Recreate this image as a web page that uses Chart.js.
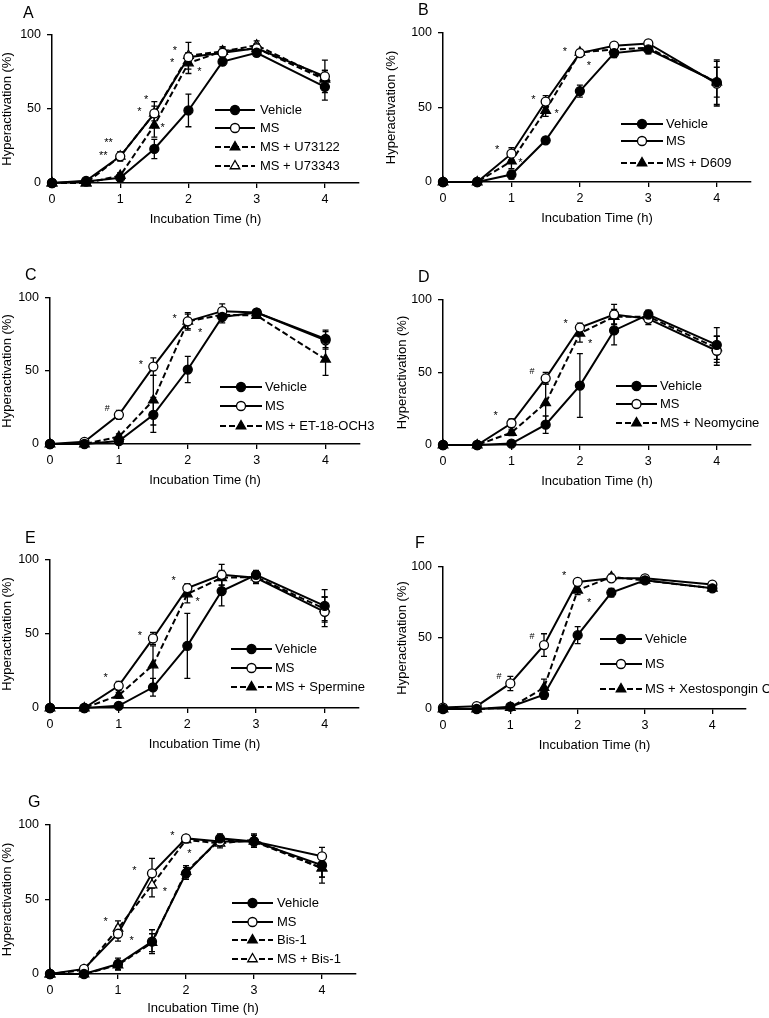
<!DOCTYPE html>
<html><head><meta charset="utf-8">
<script src="https://cdn.jsdelivr.net/npm/chart.js@4.4.1/dist/chart.umd.min.js"></script>
<style>
html,body{margin:0;padding:0;background:#fff;}
body{width:769px;height:1018px;position:relative;overflow:hidden;font-family:"Liberation Sans",Arial,sans-serif;}
canvas.p{position:absolute;}
.lab{position:absolute;font-size:16px;line-height:16px;color:#000;}
</style></head><body>
<script>
// ---------- DATA ----------
const times=[0,0.5,1,1.5,2,2.5,3,4];
const xTickValues=[0,1,2,3,4];
const yTickValues=[0,50,100];
const xTitle='Incubation Time (h)';
const yTitle='Hyperactivation (%)';

// Panel A
const aNames=['Vehicle','MS','MS + U73122','MS + U73343'];
const aVehicle=[0,1,3.6,23,49,82,88,65];
const aVehicleErr=[0,0.5,2.5,6.5,11,2.5,2.5,9];
const aMS=[0,1.5,18,47,85,88,91,72];
const aMSErr=[0,0.5,3,8,3,3,3,11];
const aU73122=[0,0,5,39,81,89,91,70];
const aU73122Err=[0,0,2,8,7,3,3,6];
const aU73343=[0,0,18,47,86,89,93,71];
const aU73343Err=[0,0,3,5,9,3,3,5];
const aMarks=[[0.83,29,'**'],[0.75,20,'**'],[1.38,58,'*'],[1.28,50,'*'],[1.62,39,'*'],[1.8,91,'*'],[1.76,83,'*'],[2.16,77,'*']];

// Panel B
const bNames=['Vehicle','MS','MS + D609'];
const bVehicle=[0,0,5,28,61,86.5,89,67];
const bVehicleErr=[0,0,3,2,4,3,3,15];
const bMS=[0,0,19,54,86.5,91.5,93,66];
const bMSErr=[0,0,4,4,2,2,2,15];
const bD609=[0,0,14,48,87,89,90,67];
const bD609Err=[0,0,5,4,2,2,3,10];
const bMarks=[[0.79,23.6,'*'],[1.13,15,'*'],[1.32,57,'*'],[1.66,48,'*'],[1.78,89,'*'],[2.13,79.6,'*']];

// Panel C
const cNames=['Vehicle','MS','MS + ET-18-OCH3'];
const cVehicle=[0,0,2,20,51,87,90,72];
const cVehicleErr=[0,0,1.5,12,9,4,2,6];
const cMS=[0,1.5,20,53,84,91,90,71];
const cMSErr=[0,0,3,6,6,5,2,6];
const cET=[0,0,5,30,84,88.5,88,58];
const cETErr=[0,0,2,17,5,4,2,11];
const cMarks=[[0.83,24,'#'],[1.32,56,'*'],[1.81,88,'*'],[2.18,78,'*']];

// Panel D
const dNames=['Vehicle','MS','MS + Neomycine'];
const dVehicle=[0,0,1,14,41,79,90,69];
const dVehicleErr=[0,0,1,6,22,10,3,12];
const dMS=[0,0,15,46,81,90,87,65];
const dMSErr=[0,0,3,4,3,7,4,10];
const dNeo=[0,0,8.5,29,77,88.5,88.5,67];
const dNeoErr=[0,0,2,13,6,5,4,8];
const dMarks=[[0.77,22,'*'],[1.3,50.6,'#'],[1.79,85.5,'*'],[2.15,72,'*']];

// Panel E
const eNames=['Vehicle','MS','MS + Spermine'];
const eVehicle=[0,0,1.5,14,42,79,90,69];
const eVehicleErr=[0,0,1,6,22,10,3,11];
const eMS=[0,0,15,47,81,90,88,65];
const eMSErr=[0,0,3,4,3,7,4,10];
const eSp=[0,0,8.5,29,77,88,88.5,67];
const eSpErr=[0,0,2,13,6,5,4,8];
const eMarks=[[0.81,22.5,'*'],[1.31,51,'*'],[1.8,87.6,'*'],[2.15,73.5,'*']];

// Panel F
const fNames=['Vehicle','MS','MS + Xestospongin C'];
const fVehicle=[0,0,1.6,10,52,82,90.6,85];
const fVehicleErr=[0,0,1,3,6,3,2,2];
const fMS=[1,2,18,45,89.5,92,92,87.6];
const fMSErr=[0,0,5,8,2,2,2,2];
const fXesto=[0,0,1,15,83.6,93,90.6,85];
const fXestoErr=[0,0,1,6,3,2,2,2];
const fMarks=[[0.83,22.7,'#'],[1.32,50.8,'#'],[1.8,96,'*'],[2.17,76.6,'*']];

// Panel G
const gNames=['Vehicle','MS','Bis-1','MS + Bis-1'];
const gVehicle=[0,0,6.7,21.7,67.6,91,89,73];
const gVehicleErr=[0,0,4,8,4,3,4,8];
const gMS=[0,3.4,27,67.6,91,89,89,79];
const gMSErr=[0,0.5,5,10,2,3,4,6];
const gBis=[0,0,6,21,68.7,90,89,71];
const gBisErr=[0,0,3,6,4,3,4,6];
const gMSBis=[0,2.7,30.6,59.7,90,87.7,90,71];
const gMSBisErr=[0,0.5,5,8,2,3,4,10];
const gMarks=[[0.82,37,'*'],[1.2,24.4,'*'],[1.24,71.4,'*'],[1.69,57,'*'],[1.8,94.4,'*'],[2.05,82.5,'*']];

// ---------- STYLES ----------
const STY={
  vf:{dash:[],ps:'circle',r:4.5,fill:'#000'},
  mo:{dash:[],ps:'circle',r:4.5,fill:'#fff'},
  tf:{dash:[6,3],ps:'triangle',r:5.5,fill:'#000'},
  to:{dash:[6,3],ps:'triangle',r:5.5,fill:'#fff'}
};
Chart.defaults.font.family='"Liberation Sans", Arial, sans-serif';
Chart.defaults.font.size=12;
Chart.defaults.color='#000';

function drawMarker(ctx,st,x,y){
  ctx.save();
  ctx.setLineDash([]);
  ctx.fillStyle=st.fill; ctx.strokeStyle='#000'; ctx.lineWidth=1.3;
  ctx.beginPath();
  if(st.ps==='circle'){ctx.arc(x,y,st.r,0,Math.PI*2);}
  else{
    let a=0;
    ctx.moveTo(x+Math.sin(a)*st.r,y-Math.cos(a)*st.r);
    a+=2*Math.PI/3; ctx.lineTo(x+Math.sin(a)*st.r,y-Math.cos(a)*st.r);
    a+=2*Math.PI/3; ctx.lineTo(x+Math.sin(a)*st.r,y-Math.cos(a)*st.r);
    ctx.closePath();
  }
  ctx.fill(); ctx.stroke(); ctx.restore();
}

function makePanel(p){
  const g=p.g;
  const c=document.createElement('canvas');
  c.width=g.cw; c.height=g.ch; c.className='p';
  c.style.left=g.cl+'px'; c.style.top=g.ct+'px';
  document.body.appendChild(c);
  const lab=document.createElement('div');
  lab.className='lab'; lab.textContent=p.letter;
  lab.style.left=(p.lp[0]-5)+'px'; lab.style.top=(p.lp[1]-8)+'px';
  document.body.appendChild(lab);

  const datasets=p.series.map((s,i)=>{
    const st=STY[p.styles[i]];
    return {label:p.names[i],data:times.map((t,j)=>({x:t,y:s[0][j]})),err:s[1],sty:st,
      borderColor:'#000',borderWidth:2,borderDash:st.dash,pointStyle:st.ps,pointRadius:st.r,
      pointBackgroundColor:st.fill,pointBorderColor:'#000',pointBorderWidth:1.3,
      pointHoverRadius:st.r,fill:false,tension:0,clip:false};
  });
  const plug={
    id:'extras',
    beforeDatasetsDraw(chart){
      const ctx=chart.ctx,xs=chart.scales.x,ys=chart.scales.y;
      ctx.save();ctx.strokeStyle='#000';ctx.lineWidth=1.3;ctx.setLineDash([]);
      chart.data.datasets.forEach(ds=>{
        ds.data.forEach((pt,j)=>{
          const e=ds.err[j]; if(!e||e<1) return;
          const x=xs.getPixelForValue(pt.x);
          const y1=ys.getPixelForValue(pt.y+e),y2=ys.getPixelForValue(pt.y-e);
          ctx.beginPath();
          ctx.moveTo(x,y1);ctx.lineTo(x,y2);
          ctx.moveTo(x-3,y1);ctx.lineTo(x+3,y1);
          ctx.moveTo(x-3,y2);ctx.lineTo(x+3,y2);
          ctx.stroke();
        });
      });
      ctx.restore();
    },
    afterDatasetsDraw(chart){
      const ctx=chart.ctx,xs=chart.scales.x,ys=chart.scales.y;
      ctx.save();
      ctx.fillStyle='#000';ctx.textAlign='center';ctx.textBaseline='middle';
      p.marks.forEach(m=>{
        const star=m[2].indexOf('*')>=0;
        ctx.font=(star?'11px':'9px')+' "Liberation Sans", Arial, sans-serif';
        ctx.fillText(m[2],xs.getPixelForValue(m[0]),ys.getPixelForValue(m[1])+(star?3:0));
      });
      // legend
      const L=p.leg;
      ctx.font='13px "Liberation Sans", Arial, sans-serif';
      ctx.textAlign='left';
      chart.data.datasets.forEach((ds,i)=>{
        const y=L.rows[i]-g.ct,x1=L.x1-g.cl,x2=L.x2-g.cl;
        ctx.save();ctx.strokeStyle='#000';ctx.lineWidth=2;ctx.setLineDash(ds.sty.dash);
        ctx.beginPath();ctx.moveTo(x1,y);ctx.lineTo(x2,y);ctx.stroke();ctx.restore();
        drawMarker(ctx,ds.sty,(x1+x2)/2,y);
        ctx.fillStyle='#000';
        ctx.fillText(ds.label,L.tx-g.cl,y+0.5);
      });
      ctx.restore();
    }
  };
  new Chart(c,{
    type:'line',
    data:{datasets},
    options:{
      responsive:false,animation:false,devicePixelRatio:1,
      events:[],
      layout:{padding:{left:0,top:g.y100-g.ct,right:g.cl+g.cw-g.x45,bottom:0}},
      plugins:{legend:{display:false},tooltip:{enabled:false}},
      scales:{
        x:{type:'linear',min:0,max:4.5,
          afterBuildTicks:s=>{s.ticks=xTickValues.map(v=>({value:v}));},
          afterFit:s=>{s.height=g.ct+g.ch-g.y0;},
          ticks:{padding:4,font:{size:12.5},color:'#000',callback:v=>String(v)},
          grid:{display:true,drawOnChartArea:false,drawTicks:true,tickLength:5,color:'#000',lineWidth:1.3},
          border:{display:true,color:'#000',width:1.5},
          title:{display:true,text:xTitle,font:{size:13},color:'#000',padding:{top:0,bottom:2}}
        },
        y:{type:'linear',min:0,max:100,
          afterBuildTicks:s=>{s.ticks=yTickValues.map(v=>({value:v}));},
          afterFit:s=>{s.width=g.x0-g.cl;},
          ticks:{padding:6,font:{size:12.5},color:'#000'},
          grid:{display:true,drawOnChartArea:false,drawTicks:true,tickLength:5,color:'#000',lineWidth:1.3},
          border:{display:true,color:'#000',width:1.5},
          title:{display:true,text:yTitle,font:{size:13},color:'#000',padding:{top:g.tp,bottom:0}}
        }
      }
    },
    plugins:[plug]
  });
}

const panels=[
  {letter:'A',lp:[28,13],names:aNames,styles:['vf','mo','tf','to'],
   series:[[aVehicle,aVehicleErr],[aMS,aMSErr],[aU73122,aU73122Err],[aU73343,aU73343Err]],marks:aMarks,
   g:{cl:0,ct:0,cw:380,ch:229,x0:52,x45:359,y100:35,y0:183,tp:0},
   leg:{x1:215,x2:255,tx:260,rows:[110,128,147,166]}},
  {letter:'B',lp:[423,10],names:bNames,styles:['vf','mo','tf'],
   series:[[bVehicle,bVehicleErr],[bMS,bMSErr],[bD609,bD609Err]],marks:bMarks,
   g:{cl:380,ct:0,cw:389,ch:228,x0:443,x45:751,y100:33,y0:182,tp:4},
   leg:{x1:621,x2:663,tx:666,rows:[124,141,163]}},
  {letter:'C',lp:[30,275],names:cNames,styles:['vf','mo','tf'],
   series:[[cVehicle,cVehicleErr],[cMS,cMSErr],[cET,cETErr]],marks:cMarks,
   g:{cl:0,ct:250,cw:380,ch:240,x0:50,x45:360,y100:298,y0:444,tp:0},
   leg:{x1:220,x2:262,tx:265,rows:[387,406,426]}},
  {letter:'D',lp:[423,277],names:dNames,styles:['vf','mo','tf'],
   series:[[dVehicle,dVehicleErr],[dMS,dMSErr],[dNeo,dNeoErr]],marks:dMarks,
   g:{cl:380,ct:250,cw:389,ch:241,x0:443,x45:751,y100:300,y0:445,tp:15},
   leg:{x1:616,x2:657,tx:660,rows:[386,404,423]}},
  {letter:'E',lp:[30,538],names:eNames,styles:['vf','mo','tf'],
   series:[[eVehicle,eVehicleErr],[eMS,eMSErr],[eSp,eSpErr]],marks:eMarks,
   g:{cl:0,ct:495,cw:380,ch:259,x0:50,x45:359,y100:560,y0:708,tp:0},
   leg:{x1:231,x2:272,tx:275,rows:[649,668,687]}},
  {letter:'F',lp:[420,543],names:fNames,styles:['vf','mo','tf'],
   series:[[fVehicle,fVehicleErr],[fMS,fMSErr],[fXesto,fXestoErr]],marks:fMarks,
   g:{cl:380,ct:495,cw:389,ch:260,x0:443,x45:746,y100:567,y0:709,tp:15},
   leg:{x1:600,x2:642,tx:645,rows:[639,664,689]}},
  {letter:'G',lp:[33,802],names:gNames,styles:['vf','mo','tf','to'],
   series:[[gVehicle,gVehicleErr],[gMS,gMSErr],[gBis,gBisErr],[gMSBis,gMSBisErr]],marks:gMarks,
   g:{cl:0,ct:750,cw:380,ch:268,x0:50,x45:356,y100:825,y0:974,tp:0},
   leg:{x1:232,x2:273,tx:277,rows:[903,922,940,959]}}
];
panels.forEach(makePanel);
</script>
</body></html>
